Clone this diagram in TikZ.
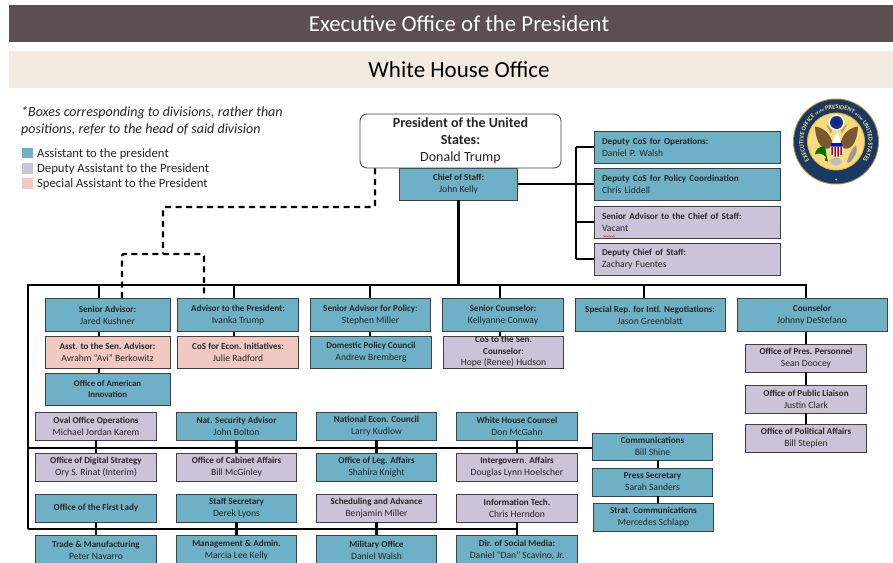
\documentclass[tikz,border=0pt]{standalone}
\usepackage{fontspec}
\setmainfont{Carlito}
\usetikzlibrary{positioning,decorations.text,decorations.pathmorphing}
\definecolor{advteal}{RGB}{110,176,198}
\definecolor{advlilac}{RGB}{203,195,215}
\definecolor{advpink}{RGB}{240,201,194}
\definecolor{headdark}{RGB}{91,79,82}
\definecolor{headbeige}{RGB}{243,235,226}
\definecolor{sealnavy}{RGB}{26,56,100}
\definecolor{sealgold}{RGB}{226,176,64}
\definecolor{sealpale}{RGB}{251,219,122}
\definecolor{sealbrown}{RGB}{122,88,50}
\newcommand{\titl}[1]{{\fontsize{9.1}{12}\selectfont\bfseries #1}}
\tikzset{
  office/.style={draw=black!75,line width=0.8pt,inner sep=0pt,align=center,text=black!85,
    font=\fontsize{9.6}{12}\selectfont},
  tealbox/.style={office,fill=advteal},
  lilacbox/.style={office,fill=advlilac},
  pinkbox/.style={office,fill=advpink},
  topsize/.style={minimum width=120.5,minimum height=33},
  gridsize/.style={minimum width=120.5,minimum height=28},
  deputybox/.style={text width=170,inner xsep=8,align=left,minimum height=32},
  link/.style={black,line width=2.2pt},
  dashlink/.style={black,line width=2.2pt,dash pattern=on 6pt off 4.5pt,rounded corners=2pt},
  swatch/.style={minimum size=10.5,inner sep=0pt},
  legendtext/.style={font=\fontsize{12.7}{15}\selectfont,text=black!85,inner sep=0pt,yshift=-0.8pt}
}
\begin{document}
\begin{tikzpicture}[x=1pt,y=-1pt]
  \useasboundingbox (0,0) rectangle (893,562);
  \clip (0,0) rectangle (893,562);

  % header bars
  \node[fill=headdark,text=white,minimum width=900,minimum height=37,font=\fontsize{22.8}{24}\selectfont] (execbar) at (459,23.5) {Executive Office of the President};
  \node[fill=headbeige,text=black,minimum width=900,minimum height=37,font=\fontsize{23}{26}\selectfont] (whbar) at (459,69.5) {White House Office};

  % legend
  \node[anchor=west,inner sep=0pt,align=left,text=black!85,font=\fontsize{14}{17}\itshape\selectfont] (legendnote) at (21,121.5) {*Boxes corresponding to divisions, rather than\\positions, refer to the head of said division};
  \node[swatch,fill=advteal] (swatchteal) at (27.5,153) {};
  \node[swatch,fill=advlilac] (swatchlilac) at (27.5,168.5) {};
  \node[swatch,fill=advpink] (swatchpink) at (27.5,183.5) {};
  \node[legendtext,right=4pt of swatchteal] (legteal) {Assistant to the president};
  \node[legendtext,right=4pt of swatchlilac] (leglilac) {Deputy Assistant to the President};
  \node[legendtext,right=4pt of swatchpink] (legpink) {Special Assistant to the President};

  % top of the chart
  \node[tealbox,minimum width=117.5,minimum height=32] (chief) at (458.5,184) {\titl{Chief of Staff:}\\John Kelly};
  \node[office,fill=white,rounded corners=7pt,minimum width=201,minimum height=54,font=\fontsize{14}{17}\selectfont] (president) at (460.5,141) {\textbf{President of the United}\\\textbf{States:}\\Donald Trump};
  \node[tealbox,deputybox] (opsdep) at (687,147) {\titl{Deputy CoS for Operations:}\\Daniel P. Walsh};
  \node[tealbox,deputybox] (policydep) at (687,184) {\titl{Deputy CoS for Policy Coordination}\\Chris Liddell};
  \node[lilacbox,deputybox] (vacantdep) at (687,222) {\titl{Senior Advisor to the Chief of Staff:}\\Vacant};
  \node[lilacbox,deputybox] (zachdep) at (687,259) {\titl{Deputy Chief of Staff:}\\Zachary Fuentes};

  % senior staff row
  \node[tealbox,topsize,minimum width=125] (kushner) at (107.5,315) {\titl{Senior Advisor:}\\Jared Kushner};
  \node[tealbox,topsize] (ivanka) at (238,315) {\titl{Advisor to the President:}\\Ivanka Trump};
  \node[tealbox,topsize] (miller) at (370.5,315) {\titl{Senior Advisor for Policy}:\\Stephen Miller};
  \node[tealbox,topsize] (conway) at (503,315) {\titl{Senior Counselor:}\\Kellyanne Conway};
  \node[tealbox,topsize,minimum width=150] (greenblatt) at (650,315) {\titl{Special Rep. for Intl. Negotiations:}\\Jason Greenblatt};
  \node[tealbox,topsize,minimum width=150] (destefano) at (812,315) {\titl{Counselor}\\Johnny DeStefano};

  \node[pinkbox,topsize,minimum width=125,minimum height=32] (berkowitz) at (107.5,352) {\titl{Asst. to the Sen. Advisor:}\\Avrahm ``Avi'' Berkowitz};
  \node[pinkbox,topsize,minimum height=32] (radford) at (238,352) {\titl{CoS for Econ. Initiatives:}\\Julie Radford};
  \node[tealbox,topsize,minimum height=32] (bremberg) at (371,352) {\titl{Domestic Policy Council}\\Andrew Bremberg};
  \node[lilacbox,topsize,minimum height=32,font=\fontsize{9.6}{11.5}\selectfont] (hudson) at (503.5,352) {\titl{CoS to the Sen.}\\\titl{Counselor:}\\Hope (Renee) Hudson};
  \node[tealbox,topsize,minimum width=125,minimum height=32,font=\fontsize{8.7}{11}\selectfont] (innovation) at (107.5,389) {\textbf{Office of American}\\\textbf{Innovation}};

  \node[lilacbox,gridsize] (doocey) at (806,358) {\titl{Office of Pres. Personnel}\\Sean Doocey};
  \node[lilacbox,gridsize] (clark) at (806,399) {\titl{Office of Public Liaison}\\Justin Clark};
  \node[lilacbox,gridsize] (stepien) at (806,438) {\titl{Office of Political Affairs}\\Bill Stepien};

  % offices grid
  \node[lilacbox,gridsize] (karem) at (96,426) {\titl{Oval Office Operations}\\Michael Jordan Karem};
  \node[tealbox,gridsize] (bolton) at (236.5,426) {\titl{Nat. Security Advisor}\\John Bolton};
  \node[tealbox,gridsize] (kudlow) at (376.5,426) {\titl{National Econ. Council}\\Larry Kudlow};
  \node[tealbox,gridsize] (mcgahn) at (517,426) {\titl{White House Counsel}\\Don McGahn};

  \node[lilacbox,gridsize] (rinat) at (96,467) {\titl{Office of Digital Strategy}\\Ory S. Rinat (Interim)};
  \node[lilacbox,gridsize] (mcginley) at (236.5,467) {\titl{Office of Cabinet Affairs}\\Bill McGinley};
  \node[tealbox,gridsize] (knight) at (376.5,467) {\titl{Office of Leg. Affairs}\\Shahira Knight};
  \node[lilacbox,gridsize] (hoelscher) at (517,467) {\titl{Intergovern. Affairs}\\Douglas Lynn Hoelscher};

  \node[tealbox,gridsize] (firstlady) at (96,508) {\titl{Office of the First Lady}};
  \node[tealbox,gridsize] (lyons) at (236.5,508) {\titl{Staff Secretary}\\Derek Lyons};
  \node[lilacbox,gridsize] (bmiller) at (376.5,508) {\titl{Scheduling and Advance}\\Benjamin Miller};
  \node[lilacbox,gridsize] (herndon) at (517,508) {\titl{Information Tech.}\\Chris Herndon};

  \node[tealbox,gridsize,minimum height=30] (navarro) at (96,550) {\titl{Trade \& Manufacturing}\\Peter Navarro};
  \node[tealbox,gridsize,minimum height=30] (kelly) at (236.5,550) {\titl{Management \& Admin.}\\Marcia Lee Kelly};
  \node[tealbox,gridsize,minimum height=30] (walsh) at (376.5,550) {\titl{Military Office}\\Daniel Walsh};
  \node[tealbox,gridsize,minimum height=30] (scavino) at (517,550) {\titl{Dir. of Social Media:}\\Daniel ``Dan'' Scavino, Jr.};

  \node[tealbox,gridsize,minimum height=27] (shine) at (652.5,446.5) {\titl{Communications}\\Bill Shine};
  \node[tealbox,gridsize] (sanders) at (652.5,482) {\titl{Press Secretary}\\Sarah Sanders};
  \node[tealbox,gridsize] (schlapp) at (653.5,517) {\titl{Strat. Communications}\\Mercedes Schlapp};

  % bus lines
  \coordinate (busleft) at (28,285);
  \coordinate (busright) at (806,285);
  \coordinate (busmid) at (28,448);
  \coordinate (buslow) at (28,529);
  \coordinate (deputybus) at (576,184);
  \coordinate (dropa) at (99,285);
  \coordinate (dropb) at (234,285);
  \coordinate (dropc) at (370,285);
  \coordinate (dropd) at (500,285);
  \coordinate (drope) at (644,285);
  \coordinate (commdrop) at (658,446);

  \draw[link] (chief.south) -- (chief.south |- busleft);
  \draw[link] (buslow) -- (busleft) -- (busright) -- (busright |- destefano.north);
  \draw[link] (busmid) -- (busmid -| shine.west);
  \draw[link] (buslow) -- (buslow -| scavino);
  \draw[link] (chief.east) -- (deputybus);
  \draw[link] (deputybus |- opsdep) -- (deputybus |- zachdep);
  \draw[link] (deputybus |- opsdep) -- (opsdep.west);
  \draw[link] (deputybus) -- (policydep.west);
  \draw[link] (deputybus |- vacantdep) -- (vacantdep.west);
  \draw[link] (deputybus |- zachdep) -- (zachdep.west);

  \draw[link] (dropa) -- (dropa |- kushner.north);
  \draw[link] (dropb) -- (dropb |- ivanka.north);
  \draw[link] (dropc) -- (dropc |- miller.north);
  \draw[link] (dropd) -- (dropd |- conway.north);
  \draw[link] (drope) -- (drope |- greenblatt.north);
  \draw[link] (dropa |- kushner.south) -- (dropa |- berkowitz.north);
  \draw[link] (dropa |- berkowitz.south) -- (dropa |- innovation.north);
  \draw[link] (dropb |- ivanka.south) -- (dropb |- radford.north);
  \draw[link] (dropc |- miller.south) -- (dropc |- bremberg.north);
  \draw[link] (dropd |- conway.south) -- (dropd |- hudson.north);
  \draw[link] (busright |- destefano.south) -- (doocey.north);
  \draw[link] (doocey.south) -- (clark.north);
  \draw[link] (clark.south) -- (stepien.north);

  \draw[link] (karem.south) -- (rinat.north);
  \draw[link] (bolton.south) -- (mcginley.north);
  \draw[link] (kudlow.south) -- (knight.north);
  \draw[link] (mcgahn.south) -- (hoelscher.north);
  \draw[link] (firstlady.south) -- (navarro.north);
  \draw[link] (lyons.south) -- (kelly.north);
  \draw[link] (bmiller.south) -- (walsh.north);
  \draw[link] (herndon.south) -- (scavino.north);
  \draw[link] (commdrop |- shine.south) -- (commdrop |- sanders.north);
  \draw[link] (commdrop |- sanders.south) -- (commdrop |- schlapp.north);

  % dashed lines
  \coordinate (dashbend) at (375,207);
  \coordinate (dashsplit) at (163,254);
  \coordinate (dashleft) at (122,254);
  \coordinate (dashright) at (204,254);
  \draw[dashlink] (president.south -| dashbend) -- (dashbend) -- (dashbend -| dashsplit) -- (dashsplit);
  \draw[dashlink] (kushner.north -| dashleft) -- (dashleft) -- (dashright) -- (ivanka.north -| dashright);

  % spell check mark
  \draw[red,line width=0.4pt,decorate,decoration={snake,amplitude=0.5pt,segment length=2.5pt}] (603,236.3) -- (615,236.3);

  % seal
  \begin{scope}[shift={(836,141.5)},y=1pt]
    \fill[sealgold!80!black] (0,0) circle (43);
    \fill[sealnavy] (0,0) circle (42);
    \fill[sealpale,draw=sealgold,line width=0.8pt] (0,0) circle (28.5);
    \path[decorate,decoration={text along path,text align=center,
      text={|\fontsize{6.3}{7}\bfseries\color{sealpale}|EXECUTIVE OFFICE |\fontsize{4}{5}\bfseries\color{sealpale}|of the |\fontsize{6.3}{7}\bfseries\color{sealpale}|PRESIDENT |\fontsize{4}{5}\bfseries\color{sealpale}|of the |\fontsize{6.3}{7}\bfseries\color{sealpale}|UNITED STATES}}]
      (250:32.5) arc[start angle=250,end angle=-70,radius=32.5];
    \fill[sealpale!60!white] (0,-38) circle (1);
    % eagle
    \fill[sealgold!90!black] (-10,17) -- (-5,8) -- (-3,13) -- cycle (11,17) -- (6,8) -- (4,13) -- cycle;
    \fill[sealbrown] (-21,15) .. controls (-13,14) and (-6,8) .. (-4,0) -- (-5,-6) .. controls (-12,-10) and (-20,-4) .. (-21,15);
    \fill[sealbrown] (22,15) .. controls (14,14) and (7,8) .. (5,0) -- (6,-6) .. controls (13,-10) and (21,-4) .. (22,15);
    \fill[white] (-3,-1) .. controls (-3,4) and (0,8) .. (2,9) .. controls (3,6) and (4,3) .. (4,-1) -- cycle;
    \fill[white,draw=black!30,line width=0.3pt] (0.5,19) circle (8.5);
    \fill[sealnavy] (0.5,19) circle (6.5);
    \fill[blue!55!sealnavy] (0.5,19) circle (3.5);
    \fill[blue!65!sealnavy] (-5,-1) rectangle (6,-5);
    \fill[white] (-6,-5) -- (7,-5) -- (7,-12) .. controls (6,-14) and (3,-15) .. (0.5,-15.5) .. controls (-2,-15) and (-5,-14) .. (-6,-12) -- cycle;
    \fill[red!70!black] (-4.7,-5) rectangle (-3.2,-13.5) (-1.7,-5) rectangle (-0.2,-15) (1.3,-5) rectangle (2.8,-15) (4.3,-5) rectangle (5.8,-13.5);
    \fill[green!45!black] (-11,-5) .. controls (-17,-4) and (-21,-9) .. (-21,-13) .. controls (-17,-11) and (-13,-12) .. (-10,-16) .. controls (-13,-19) and (-10,-20) .. (-8,-20) .. controls (-10,-14) and (-10,-9) .. (-11,-5);
    \fill[black!40] (20,-4) .. controls (16,-6) and (14,-12) .. (11,-20) .. controls (13,-23) and (15,-20) .. (17,-17) .. controls (20,-13) and (22,-9) .. (20,-4);
    \fill[black!25] (0,-20) ellipse (6 and 4);
  \end{scope}
\end{tikzpicture}
\end{document}
